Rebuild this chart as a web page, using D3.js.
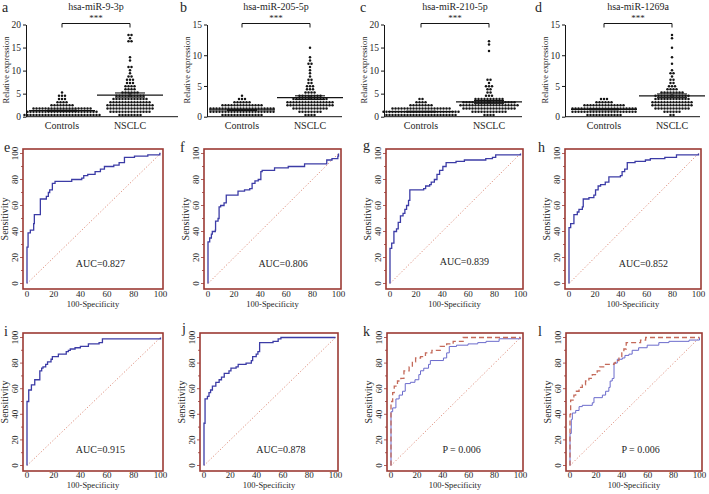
<!DOCTYPE html>
<html><head><meta charset="utf-8">
<script src="https://cdn.jsdelivr.net/npm/d3@7/dist/d3.min.js"></script>
<style>body{margin:0;background:#fff}svg{display:block}text{font-family:"Liberation Serif","Times New Roman",serif;fill:#262626}</style>
</head><body><svg id="c" width="709" height="494" font-family="Liberation Serif, serif"></svg>
<script>
// ---------- DATA: dot plots ----------
const groups = ["Controls", "NSCLC"];
const titles = ["hsa-miR-9-3p", "hsa-miR-205-5p", "hsa-miR-210-5p", "hsa-miR-1269a"];
const yMaxes = [20, 15, 20, 15];
const yTickVals = [[0,5,10,15,20],[0,5,10,15],[0,5,10,15,20],[0,5,10,15]];
const ctrlA = [0.2,0.25,0.3,0.3,0.35,0.4,0.4,0.45,0.5,0.5,0.5,0.55,0.6,0.6,0.6,0.65,0.3,0.4,0.5,0.6,0.2,0.35,0.45,0.55,0.65,0.5,
  0.7,0.75,0.8,0.8,0.85,0.9,0.9,0.95,1.0,1.0,1.0,1.05,1.1,1.1,1.15,1.2,1.2,1.25,1.3,1.3,1.35,0.8,0.9,1.0,
  1.4,1.4,1.45,1.5,1.5,1.55,1.6,1.6,1.65,1.7,1.7,1.75,1.8,1.8,1.85,1.9,1.95,2.0,2.0,1.5,
  2.1,2.2,2.3,2.4,2.5,2.6,2.7,2.2, 2.8,3.0,3.2,3.4, 3.6,3.8,4.0, 4.2,4.5,4.6, 5.3];
const nsclcA = [0.3,0.4,0.45,0.5,0.55,0.6,0.65,0.5,
  0.7,0.75,0.8,0.85,0.9,0.95,1.0,1.0,1.1,1.15,1.2,1.25,1.3,1.35,
  1.4,1.45,1.5,1.55,1.6,1.6,1.65,1.7,1.75,1.8,1.8,1.85,1.9,1.95,2.0,2.05,
  2.1,2.15,2.2,2.25,2.3,2.3,2.35,2.4,2.45,2.5,2.5,2.55,2.6,2.65,2.7,2.75,
  2.8,2.85,2.9,2.95,3.0,3.05,3.1,3.15,3.2,3.25,3.3,3.35,3.4,3.3,
  3.5,3.55,3.6,3.65,3.7,3.75,3.8,3.85,3.9,3.95,4.0,4.1,
  4.2,4.25,4.3,4.35,4.4,4.5,4.55,4.6,4.7,4.8,
  4.9,5.0,5.1,5.2,5.3,5.4, 5.6,5.9,6.0,6.1, 6.3,6.5,6.7,6.8, 7.0,7.3,7.5, 7.7,7.9,8.2, 8.5,8.8, 9.5,10.0,
  10.5,11.0,12.2,12.5, 16.0,16.0,17.0,17.5,18.0];
const ctrlB = [0.2,0.25,0.3,0.3,0.35,0.4,0.4,0.45,0.5,0.5,0.3,0.4,0.45,0.35,
  0.55,0.6,0.6,0.65,0.7,0.7,0.75,0.8,0.8,0.85,0.9,0.9,0.95,1.0,1.0,0.6,0.7,0.8,0.9,1.0,0.65,0.85,
  1.1,1.1,1.15,1.2,1.2,1.25,1.3,1.3,1.35,1.4,1.4,1.45,1.5,1.5,1.55,1.1,1.2,1.3,1.4,1.5,1.25,1.35,
  1.6,1.65,1.7,1.75,1.8,1.85,1.9,1.95,2.0,2.05,1.7,1.8,1.9,2.0,
  2.15,2.2,2.3,2.4,2.5,2.6, 2.7,2.9,3.1, 3.5];
const nsclcB = [0.2,0.3,0.4,0.5,
  0.6,0.65,0.7,0.8,0.85,0.9,1.0,0.75,
  1.1,1.15,1.2,1.25,1.3,1.35,1.4,1.45,1.5,1.55,1.2,1.4,
  1.6,1.65,1.7,1.75,1.8,1.85,1.9,1.95,2.0,2.05,1.7,1.8,1.9,2.0,1.65,1.85,
  2.15,2.2,2.25,2.3,2.35,2.4,2.45,2.5,2.55,2.6,2.2,2.3,2.4,2.5,2.25,2.45,
  2.65,2.7,2.75,2.8,2.85,2.9,2.95,3.0,3.05,3.1,2.8,3.0,
  3.2,3.25,3.3,3.4,3.5,3.55,3.6,3.3, 3.7,3.8,3.9,4.1,
  4.3,4.5,4.6, 4.8,5.0,5.1, 5.3,5.5, 5.8,6.0, 6.4, 7.2, 7.8,8.1, 8.4,8.8, 9.3,9.8, 11.3];
const ctrlC = [0.2,0.25,0.3,0.3,0.35,0.4,0.4,0.45,0.5,0.5,0.5,0.55,0.6,0.6,0.6,0.65,0.3,0.4,0.5,0.6,0.35,0.45,0.55,0.65,
  0.7,0.75,0.8,0.8,0.85,0.9,0.9,0.95,1.0,1.0,1.0,1.05,1.1,1.1,1.15,1.2,1.2,1.25,1.3,1.3,1.35,0.8,0.9,1.0,1.1,1.2,
  1.4,1.4,1.45,1.5,1.5,1.55,1.6,1.6,1.65,1.7,1.7,1.75,1.8,1.8,1.85,1.9,1.95,2.0,2.0,1.5,
  2.1,2.2,2.3,2.4,2.5,2.6,2.7,2.2, 2.8,3.0,3.2,3.3, 3.5,3.5];
const nsclcC = [0.5,0.55,0.6,0.65,
  0.7,0.75,0.8,0.85,0.9,0.95,1.0,1.05,1.1,1.2,1.3,1.35,
  1.4,1.45,1.5,1.55,1.6,1.6,1.65,1.7,1.75,1.8,1.8,1.85,1.9,1.95,2.0,2.05,1.5,1.7,
  2.1,2.15,2.2,2.25,2.3,2.3,2.35,2.4,2.45,2.5,2.5,2.55,2.6,2.65,2.7,2.75,2.2,2.4,2.6,2.3,
  2.8,2.85,2.9,2.95,3.0,3.05,3.1,3.15,3.2,3.25,3.3,3.35,3.4,2.9,3.0,3.1,3.2,3.3,
  3.5,3.55,3.6,3.65,3.7,3.8,3.9,4.0,4.1,3.6,
  4.3,4.5,4.7, 5.0,5.4, 5.7,6.0, 6.3,6.6, 6.9,7.3, 7.7,8.2, 14.3,15.8,16.4];
const ctrlD = [0.25,0.3,0.3,0.35,0.4,0.4,0.45,0.5,0.5,0.3,0.4,0.45,
  0.55,0.6,0.6,0.65,0.7,0.7,0.75,0.8,0.8,0.85,0.9,0.9,0.95,1.0,1.0,0.6,0.7,0.8,0.9,1.0,0.65,0.85,
  1.1,1.1,1.15,1.2,1.2,1.25,1.3,1.3,1.35,1.4,1.4,1.45,1.5,1.5,1.55,1.1,1.2,1.3,1.4,1.5,1.25,1.35,
  1.6,1.65,1.7,1.75,1.8,1.85,1.9,1.95,2.0,2.05,1.7,1.8,1.9,2.0,
  2.15,2.2,2.3,2.4,2.5,2.6, 2.7,2.9,3.1];
const nsclcD = [0.4,0.5,
  0.6,0.7,0.8,0.9,1.0,0.75,
  1.1,1.15,1.2,1.25,1.3,1.35,1.4,1.45,1.5,1.55,1.2,1.4,
  1.6,1.65,1.7,1.75,1.8,1.85,1.9,1.95,2.0,2.05,1.7,1.8,1.9,2.0,
  2.15,2.2,2.25,2.3,2.35,2.4,2.45,2.5,2.55,2.6,2.2,2.3,2.4,2.5,
  2.65,2.7,2.75,2.8,2.85,2.9,2.95,3.0,3.05,3.1,2.8,3.0,
  3.2,3.25,3.3,3.35,3.4,3.45,3.5,3.55,3.6,3.3,3.4,3.5,
  3.7,3.75,3.8,3.9,4.0,4.1,3.8,4.0,
  4.3,4.4,4.5,4.6, 4.8,4.9,5.0, 5.3,5.5, 5.8,6.1, 6.3, 6.8,7.2, 7.5, 8.8,9.4, 11.0, 12.8,13.2];
const meanCtrl = [1.3, 1.1, 1.1, 1.2];
const semCtrl = [0.12, 0.08, 0.08, 0.08];
const meanNsclc = [4.7, 3.1, 3.2, 3.4];
const semNsclc = [0.45, 0.3, 0.3, 0.3];
const sigLabels = ["***", "***", "***", "***"];

// ---------- DATA: ROC curves ([100-specificity, sensitivity] step points) ----------
const rocE = [[0,0],[0,28],[0.8,39],[2.5,41],[5,46],[5.5,53],[10,65],[14.5,67],[16,70],[17,72],[19,77],[21,78.5],[33.5,80],[41,81],[42.5,83],[45.5,84],[51,86],[55,88],[58,90],[65,91],[69,93],[73,97],[80.5,98],[90.5,99],[99.5,100],[100,100]];
const rocF = [[0,0],[0,32],[1.3,35],[2.6,38],[3.3,40],[5.6,41],[5.8,48],[7.7,50],[8.5,59],[9.7,60],[12.3,62],[14,68],[23,71],[28,72],[32,73],[33.8,77],[36,79],[38.5,80],[40.5,86],[41.5,87],[51,89],[61.5,90],[74,92],[91,95],[95,96],[99.5,98],[100,100]];
const rocG = [[0,0],[0,27],[1.3,31],[3,40],[5,42],[6.3,47],[8,52],[10,54],[11.4,57],[12.7,60],[14.2,64],[15.2,72],[25.8,73],[27.3,75],[30.4,76],[31.6,78],[34,80],[36,84],[38,87],[40.5,90],[43,93],[50.6,94],[57,95],[73.4,96],[78.5,97],[81,99],[100,100]];
const rocH = [[0,0],[0,43],[1.3,46],[3.8,53],[6.4,55],[7.7,57],[10.3,59],[11,65],[15.4,66],[19.2,68],[20.5,72],[22.5,75],[24.4,76],[28,78],[30.8,82],[39.7,83],[41,86],[43,88],[45,93],[51,94],[59,95],[62.8,96],[74,97],[83,99],[100,100]];
const rocI = [[0,0],[0,50],[1.3,59],[3.3,63],[5.8,67],[9.6,74],[11,76],[12,77],[14,79],[15.4,81],[18,83],[19,85],[23.5,87],[29.4,89],[31,90],[32.4,91],[36,92],[40,93],[46,95],[54,96],[56.5,99],[100,100]];
const rocJ = [[0,0],[0,33],[0.8,52],[2.6,54],[3.8,57],[5,59],[6.4,62],[9,65],[11.5,67],[13.3,69],[15.4,72],[19,74],[20.5,76],[24.4,77],[26,79],[32,80],[36,82],[37,85],[39.7,87],[41,89],[42.3,96],[52.5,97],[56.4,99],[58.5,100],[100,100]];
const rocKBlue = [[0,0],[0,42],[1.3,45],[3.8,52],[6.3,55],[8.9,58],[11,64],[15,65],[18.5,67],[21.5,71],[22.8,74],[25.3,76],[29,79],[30.4,82],[40.5,84],[43,88],[45,93],[50.6,94],[59.5,95],[67,96],[73.4,97],[83.5,99],[100,100]];
const rocKRed = [[0,0],[0,50],[1.3,57],[2.5,62],[5,66],[7.6,68],[10,74],[14,77],[16.5,81],[19,84],[22.8,85],[26.6,88],[31.6,90],[38,93],[43,95],[48,97],[55.7,100],[100,100]];
const rocLBlue = [[0,0],[0,25],[1,36],[1.8,41],[4.4,43],[7,46],[9.5,47],[17.2,49],[18.5,53],[25,55],[27.5,58],[30,61],[31,66],[32.6,68],[34,80],[36.5,83],[40.4,84],[42.4,86],[45.5,87],[48,90],[53,92],[59.6,94],[68.6,96],[76.4,97],[92,98],[100,100]];
const rocLRed = [[0,0],[0,40],[0.5,51],[3,55],[4.4,58],[7,61],[9.5,63],[12,66],[14.6,68],[17.2,71],[21,74],[23,77],[26,79],[34,80],[35,82],[37.8,85],[40,88],[41.6,91],[43.4,96],[54.5,98],[58.4,100],[100,100]];
const rocLabels = ["AUC=0.827","AUC=0.806","AUC=0.839","AUC=0.852","AUC=0.915","AUC=0.878","P = 0.006","P = 0.006"];
const rocTicks = [0,20,40,60,80,100];

// ---------- LAYOUT ----------
const svg = d3.select("#c");
const ctrlSets = [ctrlA, ctrlB, ctrlC, ctrlD];
const nsclcSets = [nsclcA, nsclcB, nsclcC, nsclcD];
const topAxisX = [26, 207, 384, 565];
const topAxisEnd = [178, 342, 522, 700];
const topCat1 = [62, 242, 421, 604];
const topLetters = [["a",2],["b",180],["c",360],["d",535]];
const ink = "#151515";
const serif = '"Liberation Serif","Times New Roman",serif';

function swarm(vals, cx, y, rowH, gap) {
  const y0 = y(0);
  const bins = d3.group(vals, v => Math.floor((y0 - y(v)) / rowH));
  const out = [];
  for (const [b, arr] of bins) {
    arr.forEach((v, i) => out.push({ x: cx + (i - (arr.length - 1) / 2) * gap, y: y0 - (b + 0.55) * rowH }));
  }
  return out;
}

for (let p = 0; p < 4; p++) {
  const g = svg.append("g");
  const y = d3.scaleLinear().domain([0, yMaxes[p]]).range([116.7, 24.5]);
  const x = d3.scalePoint().domain(groups).range([topCat1[p], topCat1[p] + 68]);
  const ax = g.append("g").attr("transform", `translate(${topAxisX[p]},0)`)
    .call(d3.axisLeft(y).tickValues(yTickVals[p]).tickSize(3).tickSizeOuter(0).tickPadding(2));
  ax.attr("font-family", null);
  ax.selectAll("path,line").attr("stroke", ink);
  ax.selectAll("text").attr("font-size", 9.5).style("font-family", serif).attr("fill", "#3a3a3a");
  g.append("line").attr("x1", topAxisX[p]).attr("x2", topAxisEnd[p]).attr("y1", y(0)).attr("y2", y(0)).attr("stroke", ink);
  groups.forEach(gr => g.append("text").attr("x", x(gr)).attr("y", 129).attr("text-anchor", "middle").attr("font-size", 10).text(gr));
  g.append("text").attr("transform", `translate(${topAxisX[p] - 17},${70}) rotate(-90)`)
    .attr("text-anchor", "middle").attr("font-size", 8.5).text("Relative expression");
  const mid = (x(groups[0]) + x(groups[1])) / 2;
  g.append("text").attr("x", mid).attr("y", 9.5).attr("text-anchor", "middle").attr("font-size", 10).text(titles[p]);
  g.append("text").attr("x", topLetters[p][1]).attr("y", 12).attr("font-size", 14).text(topLetters[p][0]);
  g.append("path").attr("d", `M${x(groups[0])},27.5V23.5H${x(groups[1])}V27.5`).attr("fill", "none").attr("stroke", ink).attr("stroke-width", 1);
  g.append("text").attr("x", mid).attr("y", 21).attr("text-anchor", "middle").attr("font-size", 9).text(sigLabels[p]);
  const sets = [ctrlSets[p], nsclcSets[p]];
  const means = [meanCtrl[p], meanNsclc[p]], sems = [semCtrl[p], semNsclc[p]];
  sets.forEach((vals, k) => {
    const cx = x(groups[k]);
    const pts = swarm(vals, cx, y, 3.2, 3.0);
    g.selectAll(null).data(pts).enter().append("circle")
      .attr("cx", d => d.x).attr("cy", d => d.y).attr("r", 1.25).attr("fill", ink);
    g.append("line").attr("x1", cx - 33).attr("x2", cx + 33).attr("y1", y(means[k])).attr("y2", y(means[k])).attr("stroke", ink).attr("stroke-width", 1.3);
    g.append("line").attr("x1", cx).attr("x2", cx).attr("y1", y(means[k] - sems[k])).attr("y2", y(means[k] + sems[k])).attr("stroke", ink).attr("stroke-width", 1.1);
    [means[k] - sems[k], means[k] + sems[k]].forEach(v =>
      g.append("line").attr("x1", cx - 15).attr("x2", cx + 15).attr("y1", y(v)).attr("y2", y(v)).attr("stroke", ink).attr("stroke-width", 1.1));
  });
}

// ---------- ROC panels ----------
const rocCurves = [[rocE],[rocF],[rocG],[rocH],[rocI],[rocJ],[rocKBlue, rocKRed],[rocLBlue, rocLRed]];
const rocL = [23, 204, 386, 565, 23, 200, 387, 566];
const rocR = [163, 341, 523, 701, 163, 338, 523, 702];
const rocT = [149, 149, 149, 149, 333, 333, 333, 333];
const rocB = [289, 289, 289, 289, 471, 471, 471, 471];
const rocLetters = [["e",4,151.5],["f",180,151.5],["g",363,149.5],["h",538,151.5],["i",4,336],["j",182,333],["k",363,336],["l",538,336]];
const labelPos = [[55,13],[57.5,13],[57,14.5],[57.5,13],[55,9.5],[58.5,9.5],[54.5,10],[54.5,10]];
const border = "#9c3a34";

for (let p = 0; p < 8; p++) {
  const g = svg.append("g");
  const L = rocL[p], R = rocR[p], T = rocT[p], B = rocB[p];
  const x = d3.scaleLinear().domain([0, 100]).range([L + 4, R - 2.5]);
  const y = d3.scaleLinear().domain([0, 100]).range([B - 5.5, T + 4.5]);
  const xb = p < 4 ? 8 : 7, tb = p < 4 ? 18 : 17;
  d3.range(0, 101, 10).forEach(v => {
    const len = v % 20 === 0 ? 3 : 2;
    g.append("line").attr("x1", L).attr("x2", L - len).attr("y1", y(v)).attr("y2", y(v)).attr("stroke", border).attr("stroke-width", 0.8);
  });
  rocTicks.forEach(v => {
    g.append("text").attr("x", x(v)).attr("y", B + xb).attr("text-anchor", "middle").attr("font-size", 9).attr("fill", "#3a3a3a").text(v);
    g.append("text").attr("transform", `translate(${L - 5},${y(v)}) rotate(-90)`).attr("text-anchor", "middle").attr("font-size", 9).attr("fill", "#3a3a3a").text(v);
  });
  g.append("text").attr("x", (L + R) / 2).attr("y", B + tb).attr("text-anchor", "middle").attr("font-size", 8.5).text("100-Specificity");
  g.append("text").attr("transform", `translate(${L - 15},${(T + B) / 2}) rotate(-90)`).attr("text-anchor", "middle").attr("font-size", 10).text("Sensitivity");
  g.append("line").attr("x1", x(0)).attr("y1", y(0)).attr("x2", x(100)).attr("y2", y(100))
    .attr("stroke", "#d9806c").attr("stroke-width", 0.9).attr("stroke-dasharray", "1.2,2");
  const line = d3.line().x(d => x(d[0])).y(d => y(d[1])).curve(d3.curveStepAfter);
  const curves = rocCurves[p];
  curves.forEach((c, k) => {
    const path = g.append("path").datum(c).attr("d", line).attr("fill", "none");
    if (curves.length === 1) path.attr("stroke", "#3c3ca6").attr("stroke-width", 1.3);
    else if (k === 0) path.attr("stroke", "#6b6bcc").attr("stroke-width", 1);
    else path.attr("stroke", "#c46a5a").attr("stroke-width", 1.3).attr("stroke-dasharray", "5,3");
  });
  g.append("rect").attr("x", L).attr("y", T).attr("width", R - L).attr("height", B - T)
    .attr("fill", "none").attr("stroke", border).attr("stroke-width", 1.6);
  g.append("text").attr("x", x(labelPos[p][0])).attr("y", y(labelPos[p][1])).attr("text-anchor", "middle").attr("font-size", 10).text(rocLabels[p]);
  g.append("text").attr("x", rocLetters[p][1]).attr("y", rocLetters[p][2]).attr("font-size", 14).text(rocLetters[p][0]);
}
</script></body></html>
